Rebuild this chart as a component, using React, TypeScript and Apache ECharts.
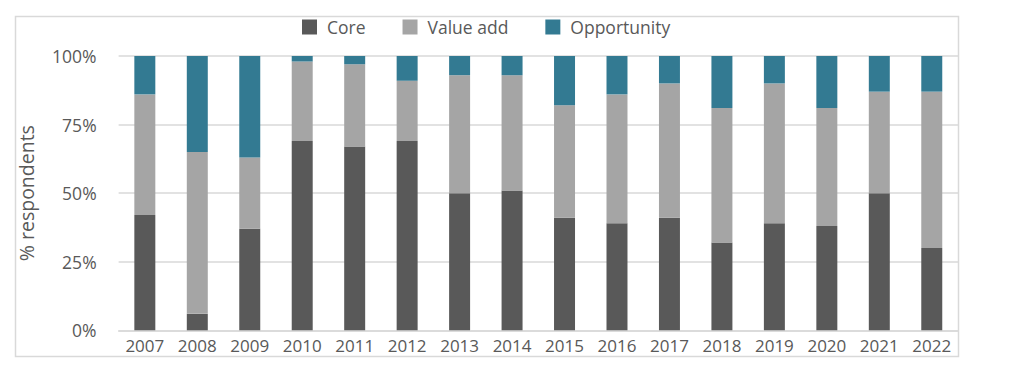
import React, { useEffect, useRef } from "react";
import * as echarts from "echarts";

const years = ["2007","2008","2009","2010","2011","2012","2013","2014","2015","2016","2017","2018","2019","2020","2021","2022"];
const core = [42, 6, 37, 69, 67, 69, 50, 51, 41, 39, 41, 32, 39, 38, 50, 30];
const valueAdd = [44, 59, 26, 29, 30, 22, 43, 42, 41, 47, 49, 49, 51, 43, 37, 57];
const opportunity = [14, 35, 37, 2, 3, 9, 7, 7, 18, 14, 10, 19, 10, 19, 13, 13];
const yTicks = [0, 25, 50, 75, 100];

const FONT = "'Open Sans', sans-serif";
const TEXT = "#595959";

export default function App() {
  const ref = useRef<HTMLDivElement>(null);
  useEffect(() => {
    if (!ref.current) return;
    const chart = echarts.init(ref.current, null, { renderer: "svg" });
    const mk = (name: string, data: number[], color: string) => ({
      name,
      type: "bar",
      stack: "total",
      barWidth: "40%",
      data,
      itemStyle: { color },
      emphasis: { disabled: true },
    });
    chart.setOption({
      animation: false,
      textStyle: { fontFamily: FONT },
      graphic: [
        {
          type: "rect",
          shape: { x: 15.5, y: 16.5, width: 943, height: 340 },
          style: { fill: "none", stroke: "#D9D9D9", lineWidth: 1.5 },
          silent: true,
        },
      ],
      legend: {
        left: 302,
        top: 18,
        padding: 0,
        itemWidth: 15,
        itemHeight: 15,
        itemGap: 37,
        icon: "rect",
        textStyle: { color: TEXT, fontSize: 17.5, fontFamily: FONT, padding: [0, 0, 0, 5] },
        data: ["Core", "Value add", "Opportunity"],
      },
      grid: { left: 118.6, right: 66, top: 56, bottom: 43.7, containLabel: false },
      xAxis: {
        type: "category",
        data: years,
        axisLine: { lineStyle: { color: "#D9D9D9", width: 1.5 } },
        axisTick: { show: false },
        axisLabel: { color: TEXT, fontSize: 17, fontFamily: FONT, margin: 7 },
      },
      yAxis: {
        type: "value",
        min: yTicks[0],
        max: yTicks[yTicks.length - 1],
        interval: 25,
        name: "% respondents",
        nameLocation: "middle",
        nameGap: 82,
        nameTextStyle: { color: TEXT, fontSize: 19.5, fontFamily: FONT },
        axisLine: { show: false },
        axisTick: { show: false },
        axisLabel: { color: TEXT, fontSize: 17.5, fontFamily: FONT, margin: 22, formatter: "{value}%" },
        splitLine: { lineStyle: { color: "#D9D9D9", width: 1.5 } },
      },
      series: [
        mk("Core", core, "#595959"),
        mk("Value add", valueAdd, "#A5A5A5"),
        mk("Opportunity", opportunity, "#337A92"),
      ],
    });
    return () => chart.dispose();
  }, []);
  return (
    <div
      ref={ref}
      style={{ position: "fixed", left: 0, top: 0, width: 1024, height: 374, background: "#fff" }}
    />
  );
}
